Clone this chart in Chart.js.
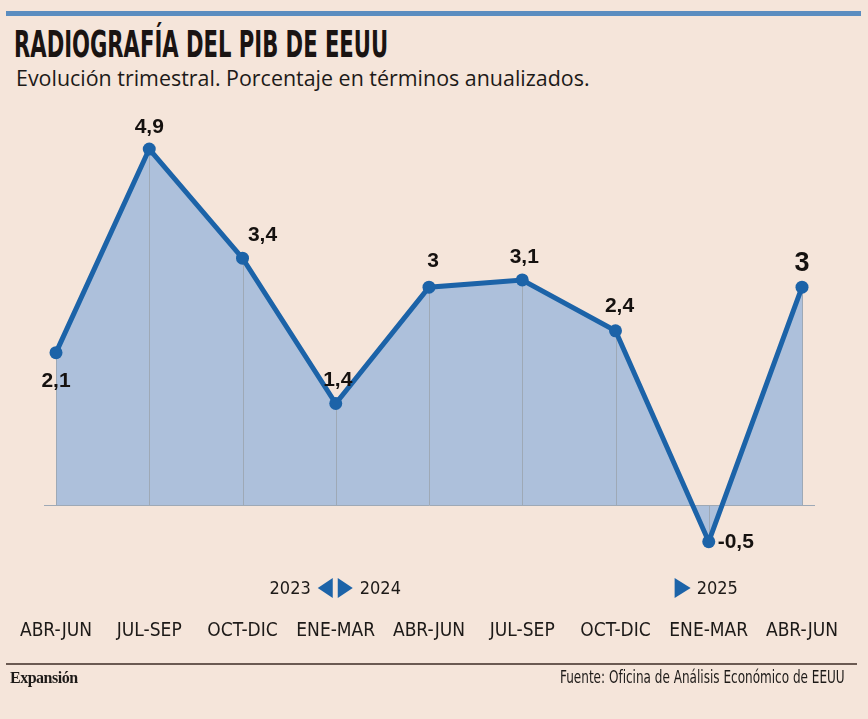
<!DOCTYPE html>
<html lang="es">
<head>
<meta charset="utf-8">
<script src="https://cdn.jsdelivr.net/npm/chart.js@4.4.1/dist/chart.umd.min.js"></script>
<style>
    html, body { margin: 0; padding: 0; }
    body { width: 868px; height: 719px; background: #f5e5da; position: relative; overflow: hidden; font-family: "DejaVu Sans Condensed", sans-serif; }
    .topbar { position: absolute; left: 6px; top: 11px; width: 855px; height: 5px; background: #5b8dc0; }
    .fit { position: absolute; white-space: nowrap; transform-origin: left top; }
    .title { left: 14px; top: 22px; font-size: 38px; font-weight: bold; color: #1a1412; }
    .subtitle { left: 16px; top: 63px; font-family: "Open Sans", "Noto Sans", sans-serif; font-size: 21.5px; color: #1d1a18; }
    .rule { position: absolute; left: 6px; top: 663px; width: 851px; height: 2px; background: #6b5a52; }
    .brand { position: absolute; left: 10px; top: 669px; font-family: "Liberation Serif", "DejaVu Serif", serif; font-weight: bold; font-size: 16px; color: #1d1a18; letter-spacing: -0.5px; }
    .source { left: 560px; top: 666px; font-size: 18px; color: #1d1a18; }
    canvas { position: absolute; left: 0; top: 0; }
</style>
</head>
<body>
<div class="topbar"></div>
<div class="fit title" data-width="374">RADIOGRAFÍA DEL PIB DE EEUU</div>
<div class="fit subtitle" data-width="574">Evolución trimestral. Porcentaje en términos anualizados.</div>
<canvas id="gdpChart" width="868" height="719"></canvas>
<div class="rule"></div>
<div class="brand">Expansión</div>
<div class="fit source" data-width="285">Fuente: Oficina de Análisis Económico de EEUU</div>
<script>
// --- Data ---
const quarters = ['ABR-JUN', 'JUL-SEP', 'OCT-DIC', 'ENE-MAR', 'ABR-JUN', 'JUL-SEP', 'OCT-DIC', 'ENE-MAR', 'ABR-JUN'];
const growth = [2.1, 4.9, 3.4, 1.4, 3.0, 3.1, 2.4, -0.5, 3.0];
const valueLabels = ['2,1', '4,9', '3,4', '1,4', '3', '3,1', '2,4', '-0,5', '3'];
const years = ['2023', '2024', '2025'];

const lineColor = '#1c63a8';
const fillColor = 'rgba(160, 186, 218, 0.85)';
const dropColor = '#9ea9b6';

// squeeze the condensed headline texts to the reference widths
document.querySelectorAll('.fit').forEach(el => {
    const target = parseFloat(el.dataset.width);
    el.style.transform = `scaleX(${target / el.offsetWidth})`;
});

// where each label sits relative to its point: [dx, dy]
const labelOffsets = [[0, 29], [0, -22], [20, -23], [2, -23], [4, -26], [2, -23], [4, -25], [27, 1], [0, -24]];

const decorations = {
    id: 'decorations',
    beforeDatasetDraw(chart) {
        // drop lines and the zero line, above the fill, below the line
        const ctx = chart.ctx;
        const x = chart.scales.x;
        const y = chart.scales.y;
        const y0 = y.getPixelForValue(0);
        ctx.save();
        ctx.strokeStyle = dropColor;
        ctx.lineWidth = 1;
        growth.forEach((v, i) => {
            const px = Math.round(x.getPixelForValue(i)) + 0.5;
            ctx.beginPath();
            ctx.moveTo(px, y0);
            ctx.lineTo(px, y.getPixelForValue(v));
            ctx.stroke();
        });
        ctx.beginPath();
        ctx.moveTo(chart.chartArea.left - 12, Math.round(y0) + 0.5);
        ctx.lineTo(chart.chartArea.right + 13, Math.round(y0) + 0.5);
        ctx.stroke();
        ctx.restore();
    },
    afterDatasetsDraw(chart) {
        const ctx = chart.ctx;
        const pts = chart.getDatasetMeta(0).data;
        ctx.save();
        ctx.fillStyle = '#15110f';
        ctx.textAlign = 'center';
        ctx.textBaseline = 'middle';
        pts.forEach((p, i) => {
            const last = i === pts.length - 1;
            ctx.font = (last ? 'bold 27px' : 'bold 21px') + ' "Liberation Sans", Arial, sans-serif';
            const [dx, dy] = labelOffsets[i];
            ctx.fillText(valueLabels[i], p.x + dx, p.y + dy);
        });

        // year markers
        const x = chart.scales.x;
        const rowY = 588;
        const mid = x.getPixelForValue(3);
        ctx.fillStyle = lineColor;
        ctx.beginPath();
        ctx.moveTo(mid - 3, rowY - 10); ctx.lineTo(mid - 3, rowY + 10); ctx.lineTo(mid - 18, rowY); ctx.closePath(); ctx.fill();
        ctx.beginPath();
        ctx.moveTo(mid + 2, rowY - 10); ctx.lineTo(mid + 2, rowY + 10); ctx.lineTo(mid + 17, rowY); ctx.closePath(); ctx.fill();
        const m25 = x.getPixelForValue(6.72);
        ctx.beginPath();
        ctx.moveTo(m25 - 8, rowY - 10); ctx.lineTo(m25 - 8, rowY + 10); ctx.lineTo(m25 + 8, rowY); ctx.closePath(); ctx.fill();
        ctx.fillStyle = '#1d1a18';
        ctx.font = '18px "DejaVu Sans Condensed", sans-serif';
        ctx.textAlign = 'right';
        ctx.fillText(years[0], mid - 25, rowY + 1);
        ctx.textAlign = 'left';
        ctx.fillText(years[1], mid + 24, rowY + 1);
        ctx.fillText(years[2], m25 + 14, rowY + 1);
        ctx.restore();
    }
};

new Chart(document.getElementById('gdpChart').getContext('2d'), {
    type: 'line',
    data: {
        labels: quarters,
        datasets: [{
            data: growth,
            borderColor: lineColor,
            borderWidth: 5,
            backgroundColor: fillColor,
            fill: 'origin',
            tension: 0,
            pointRadius: 6.5,
            pointBackgroundColor: lineColor,
            pointBorderWidth: 0,
            clip: false
        }]
    },
    options: {
        responsive: false,
        animation: false,
        layout: { padding: { left: 56, right: 66, top: 120, bottom: 78 } },
        plugins: { legend: { display: false }, tooltip: { enabled: false } },
        scales: {
            x: {
                offset: false,
                grid: { display: false, drawTicks: false },
                border: { display: false },
                ticks: {
                    padding: 42,
                    color: '#1d1a18',
                    maxRotation: 0,
                    autoSkip: false,
                    font: { family: '"DejaVu Sans Condensed", sans-serif', size: 19 }
                },
                afterFit(scale) {
                    scale.height = 63;
                    scale.paddingLeft = 0;
                    scale.paddingRight = 0;
                }
            },
            y: {
                display: false,
                min: -1.0,
                max: 5.3
            }
        }
    },
    plugins: [decorations]
});
</script>
</body>
</html>
